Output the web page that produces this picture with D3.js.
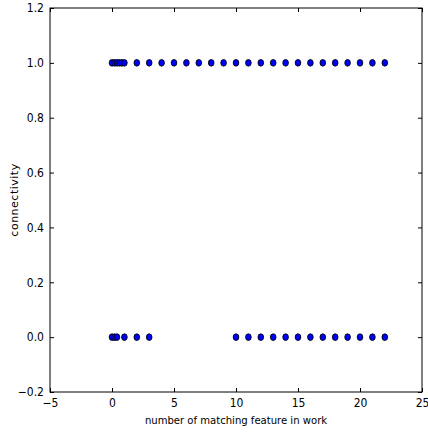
<!DOCTYPE html>
<html><head><meta charset="utf-8">
<script src="https://cdn.jsdelivr.net/npm/d3@7"></script>
<style>body{margin:0;background:#fff}svg text{font-family:"DejaVu Sans Condensed","DejaVu Sans",sans-serif;font-stretch:condensed;fill:#000}</style>
</head><body><svg id="c" width="428" height="436"></svg>
<script>
const xTicks = [-5, 0, 5, 10, 15, 20, 25];
const yTicks = [-0.2, 0.0, 0.2, 0.4, 0.6, 0.8, 1.0, 1.2];
const xConn1 = [0, 0.2, 0.4, 0.6, 0.8, 1, 2, 3, 4, 5, 6, 7, 8, 9, 10, 11, 12, 13, 14, 15, 16, 17, 18, 19, 20, 21, 22];
const xConn0 = [0, 0.2, 0.4, 1, 2, 3, 10, 11, 12, 13, 14, 15, 16, 17, 18, 19, 20, 21, 22];
const points = xConn1.map(x => ({x, y: 1})).concat(xConn0.map(x => ({x, y: 0})));

const svg = d3.select("#c");
const L = 50, R = 422, T = 8, B = 392;
const x = d3.scaleLinear().domain([-5, 25]).range([L, R]);
const y = d3.scaleLinear().domain([-0.2, 1.2]).range([B, T]);

const fmtY = d => d.toFixed(1).replace("-", "\u2212");
const fmtX = d => String(d).replace("-", "\u2212");

const gb = svg.append("g").attr("transform", `translate(0,${B})`)
  .call(d3.axisBottom(x).tickValues(xTicks).tickSizeInner(-4).tickSizeOuter(0).tickPadding(6).tickFormat(fmtX));
const gt = svg.append("g").attr("transform", `translate(0,${T})`)
  .call(d3.axisTop(x).tickValues(xTicks).tickSizeInner(-4).tickSizeOuter(0).tickFormat(""));
const gl = svg.append("g").attr("transform", `translate(${L},0)`)
  .call(d3.axisLeft(y).tickValues(yTicks).tickSizeInner(-4).tickSizeOuter(0).tickPadding(6).tickFormat(fmtY));
const gr = svg.append("g").attr("transform", `translate(${R},0)`)
  .call(d3.axisRight(y).tickValues(yTicks).tickSizeInner(-4).tickSizeOuter(0).tickFormat(""));
[gb, gt, gl, gr].forEach(g => {
  g.select(".domain").remove();
  g.selectAll("line").attr("stroke", "#000");
  g.selectAll("text").attr("font-size", 12).attr("font-family", null);
});
gb.selectAll("text").attr("dy", "0.75em");

svg.append("rect").attr("x", L).attr("y", T).attr("width", R - L).attr("height", B - T)
  .attr("fill", "none").attr("stroke", "#000").attr("stroke-width", 1);

svg.append("g").selectAll("ellipse").data(points).join("ellipse")
  .attr("cx", d => x(d.x)).attr("cy", d => y(d.y))
  .attr("rx", 2.8).attr("ry", 3.3)
  .attr("fill", "#0000ff").attr("stroke", "#000").attr("stroke-width", 0.9);

svg.append("text").attr("x", 236).attr("y", 424).attr("text-anchor", "middle")
  .attr("font-size", 11.2).text("number of matching feature in work");
svg.append("text").attr("transform", `translate(18,${200}) rotate(-90)`)
  .attr("text-anchor", "middle").attr("font-size", 11).attr("letter-spacing", 0.5)
  .style("font-family", "'DejaVu Sans',sans-serif").style("font-stretch", "normal").text("connectivity");
</script></body></html>
